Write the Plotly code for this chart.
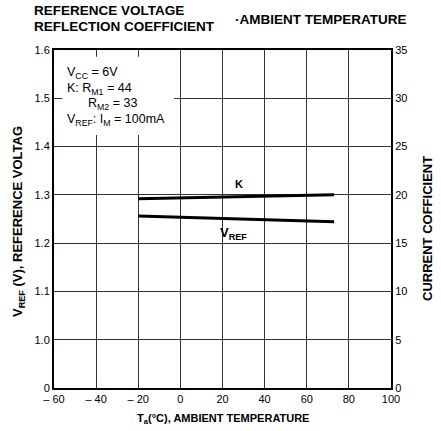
import plotly.graph_objects as go

# Data
temp = [-20, 0, 20, 40, 60, 73]
k_coeff = [19.6, 19.7, 19.78, 19.86, 19.94, 20.0]          # right axis, current coefficient
vref_volts = [1.256, 1.2535, 1.251, 1.2485, 1.246, 1.2445]  # left axis, volts

x_ticks = [-60, -40, -20, 0, 20, 40, 60, 80, 100]
x_ticktext = ["– 60", "– 40", "– 20", "0", "20", "40", "60", "80", "100"]
left_ticktext = ["0", "1.0", "1.1", "1.2", "1.3", "1.4", "1.5", "1.6"]
right_ticks = [0, 5, 10, 15, 20, 25, 30, 35]

# broken left axis: 0 at bottom, then 1.0..1.6 in 0.1 steps; maps onto right-axis scale
def volt_to_scale(v):
    return 5 + (v - 1.0) * 50

vref_scaled = [volt_to_scale(v) for v in vref_volts]

FONT = "Liberation Sans, Arial, sans-serif"
W, H = 441, 431
L, R, T, B = 54, 50, 50, 43

fig = go.Figure()
fig.add_trace(go.Scatter(x=temp, y=vref_scaled, mode="lines",
                         line=dict(color="black", width=3), yaxis="y", showlegend=False))
fig.add_trace(go.Scatter(x=temp, y=k_coeff, mode="lines",
                         line=dict(color="black", width=3), yaxis="y2", showlegend=False))

fig.update_layout(
    width=W, height=H,
    margin=dict(l=L, r=R, t=T, b=B),
    paper_bgcolor="white", plot_bgcolor="white",
    font=dict(family=FONT, color="black", size=11),
    xaxis=dict(range=[-60, 100], tickvals=x_ticks, ticktext=x_ticktext,
               showgrid=True, gridcolor="#333", gridwidth=1,
               showline=True, linecolor="black", linewidth=2, mirror=True,
               zeroline=False, ticks="", tickfont=dict(size=11, family=FONT)),
    yaxis=dict(range=[0, 35], tickvals=right_ticks, ticktext=left_ticktext,
               showgrid=True, gridcolor="#333", gridwidth=1,
               showline=True, linecolor="black", linewidth=2,
               zeroline=False, ticks="", tickfont=dict(size=11, family=FONT)),
    yaxis2=dict(range=[0, 35], tickvals=right_ticks, overlaying="y", side="right",
                showgrid=False, showline=True, linecolor="black", linewidth=2,
                zeroline=False, ticks="", tickfont=dict(size=11, family=FONT)),
)

anns = [
    dict(x=32, y=10, text="<b>REFERENCE VOLTAGE</b>", xanchor="left", font=dict(size=13.5)),
    dict(x=32, y=26, text="<b>REFLECTION COEFFICIENT</b>", xanchor="left", font=dict(size=13.5)),
    dict(x=233, y=19, text="<b>·AMBIENT TEMPERATURE</b>", xanchor="left", font=dict(size=13.5)),
    dict(x=223, y=419, text="<b>T<sub>a</sub>(°C), AMBIENT TEMPERATURE</b>", xanchor="center", font=dict(size=11)),
    dict(x=18, y=222, text="<b>V<sub>REF</sub> (V), REFERENCE VOLTAG</b>", textangle=-90, xanchor="center", font=dict(size=13)),
    dict(x=427, y=228, text="<b>CURRENT COFFICIENT</b>", textangle=-90, xanchor="center", font=dict(size=13)),
]
for a in anns:
    px, py = a.pop("x"), a.pop("y")
    fig.add_annotation(xref="paper", yref="paper", showarrow=False, yanchor="middle",
                       x=(px - L) / (W - L - R), y=1 - (py - T) / (H - T - B), **a)

# condition text box
fig.add_shape(type="rect", xref="x", yref="y", x0=-56, x1=-3, y0=26.2, y1=34.3,
              fillcolor="white", line=dict(width=0), layer="above")
cond = [
    (-55, 32.6, "V<sub>CC</sub> = 6V"),
    (-55, 31.0, "K: R<sub>M1</sub> = 44"),
    (-45, 29.4, "R<sub>M2</sub> = 33"),
    (-55, 27.8, "V<sub>REF</sub>: I<sub>M</sub> = 100mA"),
]
for x, y, t in cond:
    fig.add_annotation(x=x, y=y, xref="x", yref="y", text=t, showarrow=False,
                       xanchor="left", yanchor="middle", font=dict(size=12.5))

fig.add_annotation(x=28, y=21.1, xref="x", yref="y", text="<b>K</b>", showarrow=False, font=dict(size=11))
fig.add_annotation(x=25, y=16.0, xref="x", yref="y", text="<b>V<sub>REF</sub></b>", showarrow=False, font=dict(size=13))

fig.write_html("out.html", config={"displayModeBar": False})

# remove default browser body margin so the figure fits the window exactly
with open("out.html", "r", encoding="utf-8") as f:
    html = f.read()
html = html.replace("<head>", "<head><style>html,body{margin:0;padding:0;overflow:hidden;}</style>", 1)
with open("out.html", "w", encoding="utf-8") as f:
    f.write(html)
